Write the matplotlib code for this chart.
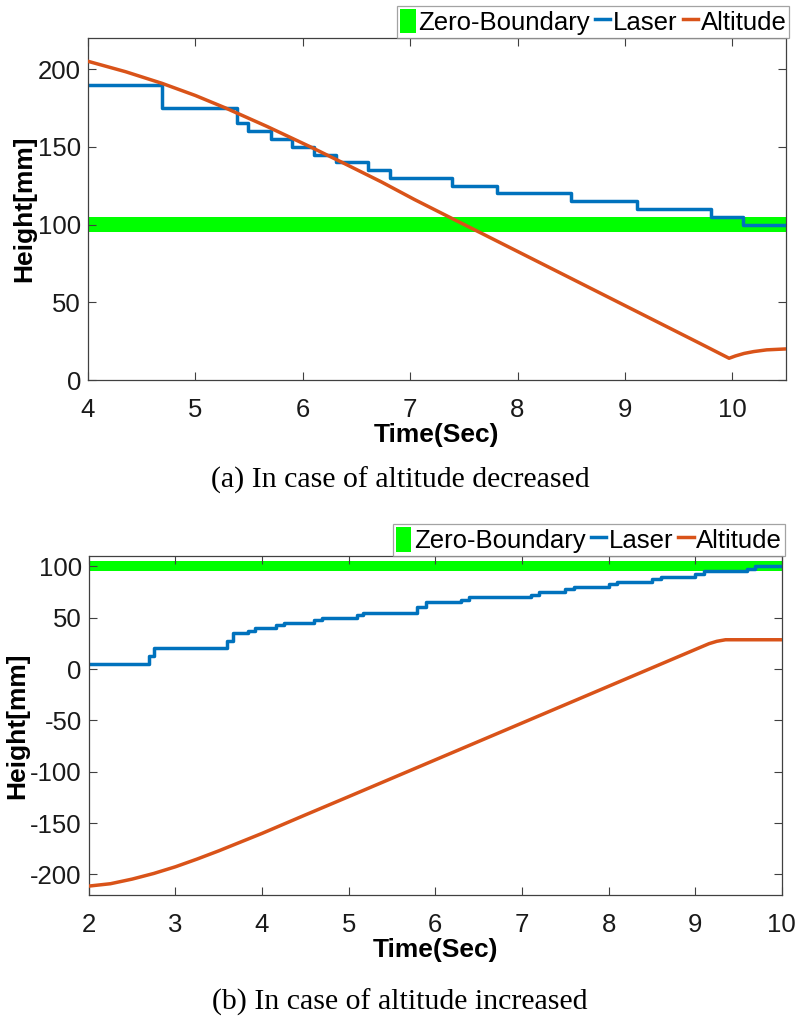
import numpy as np
import matplotlib
matplotlib.use('Agg')
import matplotlib.pyplot as plt
from matplotlib.patches import Patch
from matplotlib.lines import Line2D

plt.rcParams['font.family'] = ['Liberation Sans', 'DejaVu Sans']
plt.rcParams['axes.unicode_minus'] = False

# (a) altitude decreased
laser_a_t = [4.0, 4.69, 5.39, 5.49, 5.70, 5.90, 6.10, 6.31, 6.61, 6.81, 7.39, 7.81, 8.50, 9.11, 9.80, 10.10, 10.5]
laser_a_v = [190, 175, 165, 160, 155, 150, 145, 140, 135, 130, 125, 120, 115, 110, 105, 100, 100]
alt_a_t = [4.0, 4.35, 4.69, 5.0, 5.28, 5.67, 6.07, 6.38, 6.73, 7.04, 7.37, 7.71, 8.46, 9.08, 9.70, 9.97,
           10.03, 10.11, 10.2, 10.32, 10.5]
alt_a_v = [205, 198.3, 190.8, 183.0, 175.0, 163.0, 150.0, 139.5, 127.5, 116.1, 104.6, 92.8, 66.7, 45.1, 23.5, 14.0,
           15.5, 17.1, 18.3, 19.4, 20]

# (b) altitude increased
laser_b_t = [2.0, 2.69, 2.75, 3.60, 3.67, 3.84, 3.92, 4.16, 4.25, 4.60, 4.69, 5.10, 5.16, 5.79, 5.89,
             6.30, 6.39, 7.10, 7.20, 7.50, 7.60, 8.00, 8.10, 8.50, 8.60, 9.00, 9.10, 9.60, 9.69, 10.0]
laser_b_v = [5, 12.5, 20, 27.5, 35, 37.5, 40, 42.5, 45, 47.5, 50, 52.5, 55, 60, 65,
             67.5, 70, 72.5, 75, 77.5, 80, 82.5, 85, 87.5, 90, 92.5, 95, 97.5, 100, 100]
alt_b_t = [2.0, 2.25, 2.5, 2.75, 3.0, 3.25, 3.5, 3.75, 4.0, 4.5, 5.0, 6.0, 7.0, 8.0, 9.0, 9.16, 9.25, 9.35, 10.0]
alt_b_v = [-211.3, -209, -204.5, -199, -192.5, -185, -177, -168.5, -160, -142, -124.2, -88.4, -52.6, -16.8, 19.0,
           24.7, 27, 28.5, 28.5]

zero_lo, zero_hi = 95, 105

blue = '#0072BD'
orange = '#D95319'
green = '#00FF00'
axcol = '#404040'

fig = plt.figure(figsize=(8, 10.18), dpi=100)
ax1 = fig.add_axes([0.11, 0.6267, 0.8725, 0.336])
ax2 = fig.add_axes([0.111, 0.1208, 0.8663, 0.333])


def draw(ax, lt, lv, at, av, xlim, ylim, yticks, xticks):
    ax.fill_between(xlim, [zero_lo] * 2, [zero_hi] * 2, color=green, lw=0, zorder=1)
    ax.step(lt, lv, where='post', color=blue, lw=2.5, zorder=2)
    ax.plot(at, av, color=orange, lw=2.5, zorder=3)
    ax.set_xlim(xlim)
    ax.set_ylim(ylim)
    ax.set_xticks(xticks)
    ax.set_yticks(yticks)
    ax.tick_params(direction='in', top=True, right=True, length=6, width=0.8,
                   colors=axcol, labelcolor='#1a1a1a', labelsize=18.5)
    ax.tick_params(axis='x', pad=13)
    ax.tick_params(axis='y', pad=5)
    for s in ax.spines.values():
        s.set_color(axcol)
        s.set_linewidth(0.9)
    ax.set_xlabel('Time(Sec)', fontsize=19, fontweight='bold', labelpad=1)
    ax.set_ylabel('Height[mm]', fontsize=19, fontweight='bold', labelpad=1)
    handles = [Patch(facecolor=green, edgecolor='none'),
               Line2D([], [], color=blue, lw=2.5),
               Line2D([], [], color=orange, lw=2.5)]
    leg = ax.legend(handles, ['Zero-Boundary', 'Laser', 'Altitude'], ncol=3,
                    loc='lower right', bbox_to_anchor=(1.005, 1.0), borderaxespad=0,
                    fontsize=18.5, frameon=True, fancybox=False, handlelength=0.6,
                    handleheight=1.1, handletextpad=0.1, columnspacing=0.2,
                    borderpad=0.12)
    leg.get_frame().set_edgecolor('#8c8c8c')
    leg.get_frame().set_linewidth(0.9)


draw(ax1, laser_a_t, laser_a_v, alt_a_t, alt_a_v, (4, 10.5), (0, 220),
     [0, 50, 100, 150, 200], [4, 5, 6, 7, 8, 9, 10])
draw(ax2, laser_b_t, laser_b_v, alt_b_t, alt_b_v, (2, 10), (-220, 110),
     [-200, -150, -100, -50, 0, 50, 100], [2, 3, 4, 5, 6, 7, 8, 9, 10])

fig.text(0.5, 1 - 480 / 1018, '(a) In case of altitude decreased', ha='center', va='center',
         family=['Liberation Serif', 'DejaVu Serif'], fontsize=21.5)
fig.text(0.5, 1 - 1002 / 1018, '(b) In case of altitude increased', ha='center', va='center',
         family=['Liberation Serif', 'DejaVu Serif'], fontsize=21.5)

fig.savefig('out.png', dpi=100)
